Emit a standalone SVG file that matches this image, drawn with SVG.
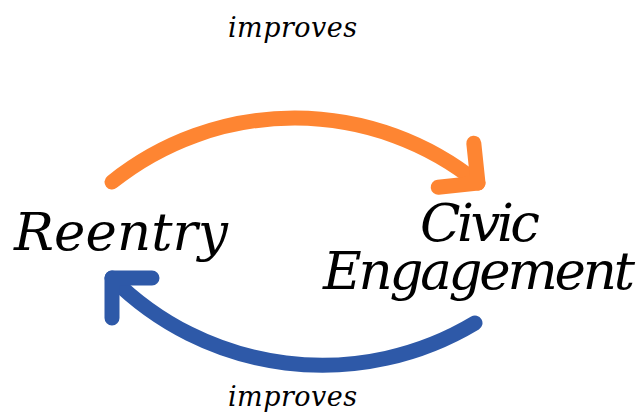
<svg xmlns="http://www.w3.org/2000/svg" width="642" height="415" viewBox="0 0 642 415">
<style>
.lbl{font-family:"DejaVu Serif","Liberation Serif",serif;font-style:italic;fill:#000}
.big{font-size:53px}
.small{font-size:27px}
.arc{fill:none;stroke-width:15;stroke-linecap:round;stroke-linejoin:round}
.orange{stroke:#FE8532}
.blue{stroke:#2E59A8}
</style>
<rect width="642" height="415" fill="#fff"/>
<g id="connectors">
<g id="improves-top">
<path class="arc orange" d="M112,182 A292 292 0 0 1 478,183"/>
<path class="arc orange" d="M473.8,143.2 L478,183 L438.2,187.2"/>
<text class="lbl small" x="228" y="37" textLength="129" lengthAdjust="spacing">improves</text>
</g>
<g id="improves-bottom">
<path class="arc blue" d="M475,323 A297 297 0 0 1 112,278"/>
<path class="arc blue" d="M112,318 L112,278 L152,278"/>
<text class="lbl small" x="228" y="406" textLength="129" lengthAdjust="spacing">improves</text>
</g>
</g>
<g id="node-reentry">
<text class="lbl big" x="14" y="250" textLength="214" lengthAdjust="spacing">Reentry</text>
</g>
<g id="node-civic">
<text class="lbl big"><tspan x="420" y="241" textLength="120" lengthAdjust="spacing">Civic</tspan><tspan x="323" y="289" textLength="312" lengthAdjust="spacing">Engagement</tspan></text>
</g>
</svg>
